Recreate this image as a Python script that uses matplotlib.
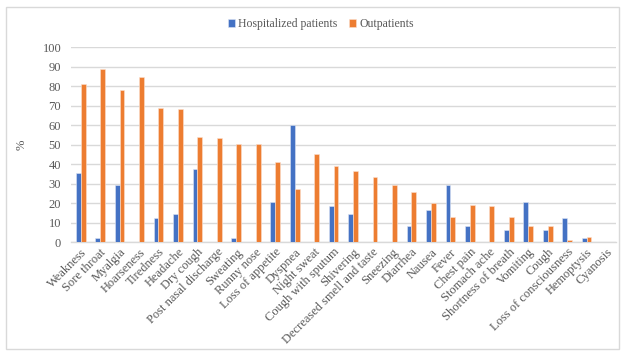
import matplotlib.pyplot as plt
import numpy as np
from matplotlib.patches import Rectangle

symptoms = ['Weakness', 'Sore throat', 'Myalgia', 'Hoarseness', 'Tiredness', 'Headache',
            'Dry cough', 'Post nasal discharge', 'Sweating', 'Runny nose', 'Loss of appetite',
            'Dyspnea', 'Night sweat', 'Cough with sputum', 'Shivering',
            'Decreased smell and taste', 'Sneezing', 'Diarrhea', 'Nausea', 'Fever',
            'Chest pain', 'Stomach ache', 'Shortness of breath', 'Vomiting', 'Cough',
            'Loss of consciousness', 'Hemoptysis', 'Cyanosis']
hospitalized = [35.2, 1.9, 29.0, 0, 12.1, 14.5, 37.2, 0, 1.9, 0, 20.5, 60.1, 0, 18.4, 14.5,
                0, 0, 8.0, 16.6, 29.0, 8.0, 0, 6.0, 20.5, 6.0, 12.1, 1.9, 0]
outpatients = [80.9, 88.6, 78.2, 84.5, 68.6, 68.1, 54.1, 53.6, 50.5, 50.5, 41.0, 27.3, 45.1,
               38.9, 36.2, 33.6, 29.4, 25.9, 19.8, 12.8, 19.1, 18.4, 12.8, 8.0, 8.0, 1.2, 2.6, 0]

plt.rcParams['font.family'] = 'Liberation Serif'
fig = plt.figure(figsize=(6.22, 3.51), dpi=100)
ax = fig.add_axes([0.114, 0.3105, 0.876, 0.5555])

x = np.arange(len(symptoms))
w = 0.25
ax.bar(x - w / 2, hospitalized, w, color='#4472C4', edgecolor='#dde4f3', linewidth=0.4,
       label='Hospitalized patients', zorder=3)
ax.bar(x + w / 2, outpatients, w, color='#ED7D31', edgecolor='#fbe0cf', linewidth=0.4,
       label='Outpatients', zorder=3)

ax.set_xlim(-0.5, len(symptoms) - 0.5)
ax.set_ylim(0, 100)
ax.set_yticks(range(0, 101, 10))
ax.grid(axis='y', color='#d9d9d9', linewidth=1, zorder=0)
for s in ['top', 'right', 'left']:
    ax.spines[s].set_visible(False)
ax.spines['bottom'].set_color('#d9d9d9')
ax.spines['bottom'].set_linewidth(1)
ax.tick_params(length=0, colors='#595959', labelsize=9)
ax.set_xticks(x)
ax.set_xticklabels(symptoms, rotation=45, ha='right', rotation_mode='anchor')
ax.tick_params(axis='x', pad=3)
ax.tick_params(axis='y', pad=7)
ax.set_ylabel('%', color='#595959', fontsize=9)
ax.yaxis.set_label_coords(-0.079, 0.5)

ax.legend(loc='center', bbox_to_anchor=(0.459, 1.118), ncol=2, frameon=False,
          fontsize=8.5, labelcolor='#595959', handlelength=0.6, handleheight=0.6,
          handletextpad=0.3, columnspacing=1.0)

# light chart border
fig.patches.append(Rectangle((6 / 622, 2 / 351), 613 / 622, 342 / 351, transform=fig.transFigure,
                             fill=False, edgecolor='#d9d9d9', linewidth=1))

plt.savefig('out.png', dpi=100)
